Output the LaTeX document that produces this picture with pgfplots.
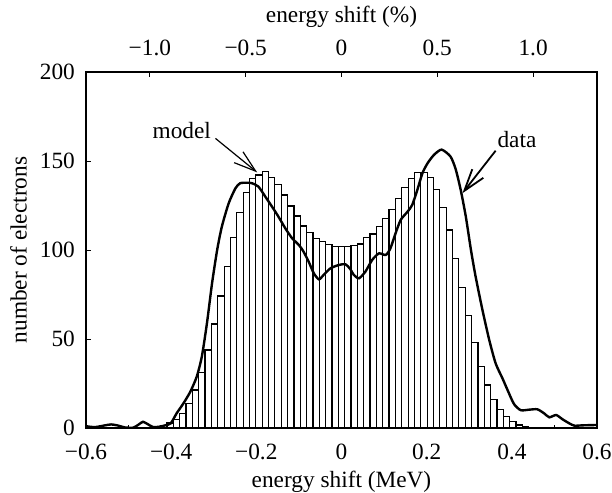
\documentclass[border=0pt]{standalone}
\usepackage{fontspec}
\setmainfont{Liberation Serif}
\usepackage{pgfplots}
\pgfplotsset{compat=1.18}
\usetikzlibrary{arrows.meta,calc}

% model histogram: bin centres (MeV), counts
\pgfplotstableread{
x y
-0.4470 0.3
-0.4321 0.8
-0.4172 1.5
-0.4023 2.8
-0.3874 4.9
-0.3725 8.2
-0.3576 13.9
-0.3427 21.3
-0.3278 31.0
-0.3129 43.8
-0.2980 58.4
-0.2831 74.2
-0.2682 90.6
-0.2533 107.1
-0.2384 121.2
-0.2235 132.2
-0.2086 140.0
-0.1937 142.1
-0.1788 144.0
-0.1639 140.6
-0.1490 136.9
-0.1341 130.9
-0.1192 124.7
-0.1043 119.1
-0.0894 113.5
-0.0745 109.7
-0.0596 106.6
-0.0447 104.7
-0.0298 103.2
-0.0149 101.9
0.0000 101.9
0.0149 101.9
0.0298 102.4
0.0447 103.4
0.0596 107.1
0.0745 109.0
0.0894 113.1
0.1043 117.8
0.1192 122.8
0.1341 129.0
0.1490 135.0
0.1639 140.3
0.1788 143.4
0.1937 143.4
0.2086 140.8
0.2235 134.1
0.2384 124.0
0.2533 111.2
0.2682 95.3
0.2831 79.0
0.2980 63.1
0.3129 47.9
0.3278 34.4
0.3427 24.2
0.3576 16.1
0.3725 10.5
0.3874 6.4
0.4023 3.6
0.4172 1.7
0.4321 0.8
0.4470 0.5
}\modeltable

% measured spectrum
\pgfplotstableread{
x y
-0.600 1.0
-0.579 0.5
-0.555 1.5
-0.541 2.0
-0.527 1.5
-0.508 0.3
-0.489 0.2
-0.476 2.0
-0.466 3.5
-0.454 2.0
-0.442 0.5
-0.426 0.8
-0.414 1.5
-0.401 2.6
-0.387 8.3
-0.371 13.9
-0.355 20.4
-0.340 28.8
-0.328 40.1
-0.316 58.8
-0.304 81.3
-0.292 100.0
-0.281 113.1
-0.265 126.2
-0.249 134.7
-0.238 137.5
-0.222 137.8
-0.210 137.5
-0.195 135.6
-0.179 130.0
-0.163 124.3
-0.148 118.7
-0.132 112.2
-0.116 106.6
-0.100 102.8
-0.089 99.0
-0.077 93.4
-0.065 86.9
-0.053 83.5
-0.042 86.0
-0.026 89.7
-0.006 91.6
0.009 92.0
0.020 89.5
0.029 86.0
0.041 84.1
0.056 87.8
0.072 94.4
0.088 98.1
0.104 97.2
0.115 101.0
0.127 109.4
0.139 116.9
0.155 121.5
0.166 125.3
0.178 133.7
0.190 143.1
0.202 148.7
0.217 153.4
0.235 156.4
0.256 152.5
0.268 145.5
0.280 133.7
0.292 118.7
0.304 100.0
0.315 85.0
0.331 66.3
0.347 49.4
0.362 36.3
0.378 27.9
0.390 21.3
0.405 13.5
0.421 10.0
0.441 10.3
0.460 10.5
0.476 8.2
0.488 6.0
0.504 7.3
0.519 4.9
0.535 2.6
0.547 1.3
0.566 1.5
0.600 1.7
}\datatable

\begin{document}
\fontsize{11.7}{14}\selectfont
\begin{tikzpicture}
\begin{axis}[
    name=main,
    scale only axis,
    width=255.5bp, height=178bp,
    xmin=-0.6, xmax=0.6,
    ymin=0, ymax=200,
    xtick={-0.6,-0.4,...,0.61},
    xticklabels={−0.6, −0.4, −0.2, 0, 0.2, 0.4, 0.6},
    minor x tick num=1,
    ytick={0,50,100,150,200},
    xtick pos=bottom, ytick pos=left,
    tick align=inside,
    major tick length=2.4bp, minor tick length=1.5bp,
    /pgf/number format/assume math mode=true,
    xticklabel style={yshift=-4bp},
    yticklabel style={xshift=-1.5bp},
    xlabel={energy shift (MeV)},
    ylabel={number of electrons},
    xlabel style={yshift=2.5bp},
    ylabel style={yshift=-1.5bp},
    axis line style={line width=0.6bp},
    every tick/.style={line width=0.5bp, black},
    clip=true,
]
\addplot[ybar, bar width=0.0149, fill=white, draw=black, line width=0.6bp]
    table {\modeltable};
\addplot[smooth, tension=0.4, black, line width=1.2bp, no marks]
    table {\datatable};
\node at (axis cs:-0.375,167) {model};
\draw[line width=0.6bp, -{Straight Barb[length=11bp, width=7bp]}]
    (axis cs:-0.296,162.7) -- (axis cs:-0.198,143.6);
\node at (axis cs:0.412,162) {data};
\draw[line width=0.9bp, -{Straight Barb[length=11bp, width=7bp]}]
    (axis cs:0.362,155.8) -- (axis cs:0.284,131.9);
\end{axis}
\begin{axis}[
    at={(main.south west)}, anchor=south west,
    scale only axis,
    width=255.5bp, height=178bp,
    xmin=-1.33333, xmax=1.33333,
    ymin=0, ymax=1,
    axis x line*=top,
    axis y line=none,
    xtick={-1,-0.5,0,0.5,1},
    xticklabels={−1.0, −0.5, 0, 0.5, 1.0},
    xticklabel style={yshift=4bp},
    tick align=inside,
    major tick length=2.4bp,
    xlabel={energy shift (\%)},
    xlabel style={yshift=-1.5bp},
    axis line style={line width=0.6bp},
    every tick/.style={line width=0.5bp, black},
]
\end{axis}
\pgfresetboundingbox
\path ($(main.south west)+(-43bp,-32.5bp)$) rectangle ($(main.north east)+(7.5bp,36bp)$);
\end{tikzpicture}
\end{document}
